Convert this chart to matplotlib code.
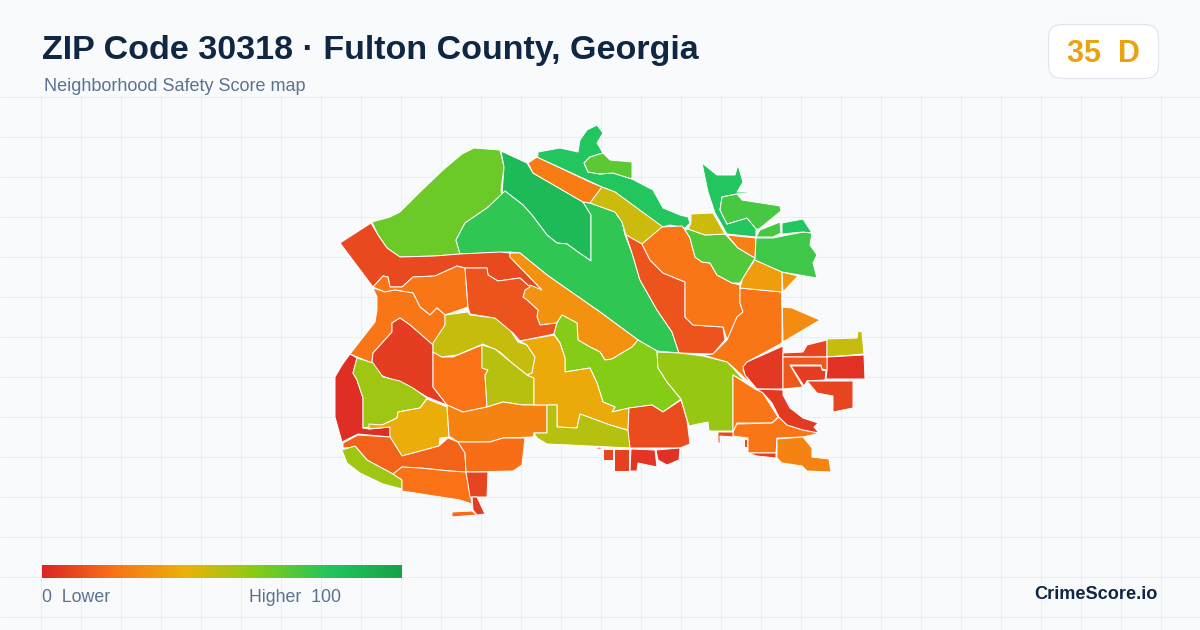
import matplotlib
matplotlib.use("Agg")
import matplotlib.pyplot as plt
import numpy as np
from matplotlib.collections import PatchCollection
from matplotlib.colors import LinearSegmentedColormap, Normalize
from matplotlib.patches import FancyBboxPatch, Polygon

TITLE = "ZIP Code 30318 · Fulton County, Georgia"
SUBTITLE = "Neighborhood Safety Score map"
SCORE_LABEL = "35  D"
BRAND = "CrimeScore.io"
LEGEND_LOW = "0  Lower"
LEGEND_HIGH = "Higher  100"

SCALE_STOPS = [0.0, 0.2, 0.4, 0.6, 0.8, 1.0]
SCALE_COLORS = ["#dc2626", "#f97316", "#eab308", "#84cc16", "#22c55e", "#16a34a"]

# neighborhood outlines
north_outlines = [
    [(372,222),(390,217),(400,212),(420,192),(443,170),(462,154),(474,148),(500,150),(504,167),(501,190),(502,195),(487,208),(465,223),(456,240),(460,254),(435,256),(400,257),(387,248),(378,235)],
    [(501,151),(527,163),(533,173),(583,202),(591,215),(591,261),(578,252),(567,244),(557,243),(547,235),(532,215),(523,205),(505,191),(502,194),(504,167)],
    [(505,191),(523,205),(532,215),(547,235),(557,243),(567,244),(578,252),(591,261),(591,215),(583,202),(590,203),(615,212),(622,222),(625,235),(632,253),(640,280),(657,310),(672,332),(679,353),(657,351),(638,340),(600,312),(547,275),(520,253),(510,252),(460,254),(456,240),(465,223),(487,208)],
    [(528,163),(537,157),(590,182),(602,187),(590,203),(583,202),(533,173)],
    [(538,155),(538,152),(560,148),(578,152),(580,140),(587,130),(597,125),(603,133),(597,143),(603,153),(590,157),(584,163),(588,172),(600,174),(613,173),(632,179),(653,190),(663,208),(680,215),(688,217),(690,223),(685,228),(670,225),(662,227),(615,192),(602,187),(537,157)],
    [(584,163),(590,157),(603,153),(610,160),(632,162),(632,179),(613,173),(600,174),(588,172)],
    [(602,187),(615,192),(663,227),(642,244),(626,235),(622,222),(615,212),(590,203)],
]
north_scores = [65, 86, 77, 23, 80, 68, 46]

northeast_outlines = [
    [(626,235),(642,244),(650,260),(663,273),(685,282),(685,317),(693,325),(723,327),(725,340),(713,354),(679,353),(672,332),(657,310),(640,280),(632,253)],
    [(642,244),(662,227),(682,226),(685,230),(690,238),(695,257),(702,262),(710,263),(717,275),(732,283),(740,285),(740,303),(743,312),(737,317),(727,340),(723,327),(693,325),(685,317),(685,282),(663,273),(650,260)],
    [(740,288),(782,292),(782,343),(747,362),(743,370),(750,383),(733,367),(727,362),(703,355),(713,354),(727,340),(737,317),(743,312),(740,303)],
    [(755,260),(782,272),(782,292),(740,288),(743,277)],
    [(782,272),(798,276),(783,292)],
    [(782,292),(782,307),(792,308),(820,320),(783,342)],
    [(685,230),(688,229),(705,235),(725,234),(738,248),(755,258),(740,283),(732,283),(717,275),(710,263),(702,262),(695,257),(690,238)],
    [(691,214),(713,213),(725,234),(705,235),(688,229),(691,223)],
    [(727,235),(756,238),(755,258),(738,248)],
    [(756,238),(773,238),(803,232),(812,233),(810,245),(817,255),(813,263),(817,278),(782,272),(755,260)],
    [(702,163),(717,175),(735,175),(738,165),(743,182),(737,192),(760,192),(737,194),(722,197),(720,210),(727,224),(747,218),(756,228),(756,237),(727,234),(715,213),(708,192)],
    [(722,197),(737,194),(742,200),(780,206),(781,211),(770,220),(759,229),(756,229),(747,218),(727,224),(720,210)],
    [(756,237),(760,230),(780,222),(781,233),(773,237)],
    [(782,223),(803,219),(812,233),(803,232),(782,234)],
]
northeast_scores = [12, 21, 21, 33, 31, 28, 70, 46, 24, 74, 80, 72, 72, 80]

west_outlines = [
    [(340,243),(371,223),(378,235),(387,248),(400,257),(435,256),(460,254),(500,252),(510,253),(510,257),(542,290),(530,287),(520,278),(498,281),(488,275),(487,268),(465,268),(457,266),(435,276),(413,277),(402,287),(390,287),(388,277),(383,276),(373,287)],
    [(373,287),(383,276),(388,277),(390,287),(402,287),(413,277),(435,276),(457,266),(465,268),(468,307),(445,315),(437,308),(430,315),(420,307),(413,293),(395,290),(385,292)],
    [(373,288),(385,292),(395,290),(413,293),(420,307),(430,315),(437,308),(445,315),(445,325),(433,345),(410,325),(400,318),(392,323),(392,332),(373,353),(372,363),(350,354),(375,322),(377,310),(377,297)],
    [(433,345),(433,387),(447,405),(427,397),(407,385),(380,375),(372,363),(373,353),(392,332),(392,323),(400,318),(410,325)],
    [(350,354),(357,358),(353,373),(357,380),(363,398),(363,428),(369,429),(390,427),(390,437),(358,434),(342,442),(335,417),(335,377),(342,365)],
    [(357,358),(373,363),(383,377),(400,381),(413,388),(427,398),(420,408),(398,412),(397,418),(382,425),(363,428),(363,398),(357,380),(353,373)],
    [(427,399),(447,407),(449,437),(440,438),(439,446),(402,456),(390,437),(390,427),(369,429),(369,424),(382,425),(397,418),(398,412),(420,408)],
    [(433,352),(442,357),(453,357),(482,345),(482,368),(488,370),(485,375),(487,407),(463,412),(447,405),(433,387)],
    [(445,315),(468,312),(470,315),(495,318),(510,330),(518,342),(527,345),(535,357),(532,373),(527,375),(512,363),(500,352),(483,344),(457,355),(442,357),(433,352),(433,343),(445,325)],
    [(482,345),(495,349),(512,363),(527,375),(534,378),(534,405),(523,405),(503,402),(487,407),(485,375),(488,370),(482,368)],
    [(447,405),(463,412),(487,407),(503,402),(523,405),(547,405),(547,433),(534,433),(533,437),(503,438),(490,442),(458,442),(449,436)],
]
west_scores = [9, 21, 21, 6, 2, 55, 38, 20, 47, 50, 25]

southwest_outlines = [
    [(343,443),(358,435),(390,437),(402,456),(439,446),(448,438),(458,442),(465,453),(466,472),(450,471),(420,468),(402,467),(393,474),(367,460),(356,447),(343,448)],
    [(342,450),(355,446),(367,460),(393,474),(402,480),(402,489),(383,484),(360,473),(347,463)],
    [(393,474),(402,467),(420,468),(450,471),(466,472),(472,504),(460,500),(402,491),(402,480)],
    [(458,442),(490,442),(503,438),(525,438),(522,465),(513,471),(466,472),(465,453)],
    [(466,472),(488,472),(487,497),(470,497)],
    [(472,497),(477,497),(485,514),(477,515),(473,510)],
    [(452,512),(472,511),(477,515),(452,517)],
]
southwest_scores = [16, 55, 20, 19, 8, 6, 18]

central_outlines = [
    [(510,253),(520,253),(547,275),(600,312),(638,340),(632,347),(612,359),(605,360),(600,352),(590,347),(578,340),(577,323),(562,315),(557,323),(540,325),(537,317),(538,310),(527,300),(523,297),(525,290),(530,285),(542,290),(510,257)],
    [(465,268),(487,268),(488,275),(498,281),(520,278),(530,287),(525,290),(523,297),(527,300),(538,310),(537,317),(540,325),(557,323),(554,334),(520,341),(513,333),(495,318),(470,314),(468,307)],
    [(562,315),(577,323),(578,340),(590,347),(600,352),(605,360),(612,359),(632,347),(638,340),(657,351),(658,368),(667,382),(681,399),(663,412),(652,405),(630,408),(612,412),(615,407),(603,402),(597,383),(590,368),(565,372),(565,358),(560,343),(554,334),(557,323)],
    [(520,341),(554,335),(560,343),(565,358),(565,372),(590,368),(597,383),(603,402),(615,407),(612,412),(629,408),(628,430),(610,425),(580,414),(577,428),(557,427),(557,405),(534,405),(534,378),(527,375),(532,373),(535,357),(527,345)],
    [(547,405),(557,405),(557,427),(577,428),(580,414),(610,425),(630,431),(630,448),(570,445),(547,444),(537,438),(534,433),(547,433)],
    [(629,408),(652,405),(663,412),(681,400),(687,420),(690,444),(680,448),(630,448),(628,430)],
    [(657,352),(679,353),(703,356),(727,362),(733,368),(747,384),(755,388),(733,375),(733,431),(709,431),(708,422),(698,424),(689,426),(681,399),(667,382),(658,368)],
]
central_scores = [30, 12, 60, 37, 50, 10, 56]

south_outlines = [
    [(733,375),(755,389),(763,393),(778,417),(772,423),(737,423),(733,432)],
    [(737,424),(772,423),(779,417),(787,425),(803,430),(820,433),(803,437),(777,438),(776,453),(748,453),(748,438),(733,436),(733,432)],
    [(777,439),(803,437),(812,448),(812,457),(829,459),(831,472),(807,471),(802,466),(782,463),(777,458)],
    [(748,453),(776,453),(776,458),(757,456)],
    [(718,432),(733,432),(733,437),(720,436),(720,443),(718,443)],
    [(725,443),(730,443),(730,444),(725,444)],
    [(744,439),(747,439),(747,447),(744,447)],
    [(592,449),(600,447),(603,449)],
    [(603,449),(613,449),(613,460),(603,460)],
    [(614,449),(629,449),(629,471),(614,471)],
    [(631,449),(655,450),(657,467),(638,463),(637,471),(630,471)],
    [(656,450),(680,448),(679,460),(667,465),(658,460)],
]
south_scores = [21, 21, 25, 6, 10, 10, 10, 8, 8, 7, 4, 3]

east_outlines = [
    [(783,346),(783,389),(757,389),(745,375),(743,367),(747,362)],
    [(783,353),(803,352),(807,345),(827,340),(827,357),(783,357)],
    [(827,339),(857,338),(858,331),(862,332),(864,354),(827,357)],
    [(827,357),(864,355),(865,379),(826,379),(827,370)],
    [(783,357),(827,357),(827,370),(822,369),(821,365),(790,365),(803,387),(783,389)],
    [(791,366),(821,366),(822,370),(826,371),(825,380),(807,381),(804,386)],
    [(807,381),(853,381),(853,408),(833,412),(833,396),(817,393)],
    [(757,389),(783,390),(783,395),(790,408),(803,418),(818,423),(814,427),(819,433),(803,430),(787,425),(779,417),(772,403),(763,393)],
]
east_scores = [5, 8, 47, 3, 13, 6, 8, 5]

zone_outlines = (north_outlines + northeast_outlines + west_outlines
                 + southwest_outlines + central_outlines + south_outlines + east_outlines)
zone_scores = (north_scores + northeast_scores + west_scores
               + southwest_scores + central_scores + south_scores + east_scores)

INK = "#0f2744"
MUTED = "#5b7290"
AMBER = "#eaa30f"
GRID = "#e8eef6"
BG = "#f8fafc"

plt.rcParams["font.family"] = ["Liberation Sans", "DejaVu Sans"]

fig = plt.figure(figsize=(12, 6.3), dpi=100, facecolor=BG)
ax = fig.add_axes([0, 0, 1, 1])
ax.set_xlim(0, 1200)
ax.set_ylim(630, 0)
ax.axis("off")

# background grid, below the header band only
ax.vlines(np.arange(40.5, 1200, 40), 96, 630, color=GRID, linewidth=0.72, zorder=0)
ax.hlines(np.arange(96.5, 630, 40), 0, 1200, color=GRID, linewidth=0.72, zorder=0)

cmap = LinearSegmentedColormap.from_list("safety", list(zip(SCALE_STOPS, SCALE_COLORS)))
norm = Normalize(0, 100)

patches = [Polygon(outline, closed=True) for outline in zone_outlines]
zones = PatchCollection(patches, cmap=cmap, norm=norm, edgecolor="white", linewidth=0.7, zorder=2)
zones.set_array(np.array(zone_scores))
ax.add_collection(zones)

ax.text(42, 59.5, TITLE, fontsize=24.45, fontweight="bold", color=INK, va="baseline", ha="left")
ax.text(44, 91, SUBTITLE, fontsize=12.95, color=MUTED, va="baseline", ha="left")

badge = FancyBboxPatch((1048.5, 24.5), 110, 54, boxstyle="round,pad=0,rounding_size=14",
                       facecolor="white", edgecolor="#dde4ee", linewidth=0.8, zorder=3)
ax.add_patch(badge)
ax.text(1103, 62, SCORE_LABEL, fontsize=22, fontweight="bold", color=AMBER, va="baseline", ha="center", zorder=4)

# color scale
ax.imshow(np.linspace(0, 1, 360).reshape(1, -1), cmap=cmap, aspect="auto",
          extent=(42, 402, 578, 565), zorder=2)
ax.set_xlim(0, 1200)
ax.set_ylim(630, 0)
ax.text(42, 602, LEGEND_LOW, fontsize=12.8, color=MUTED, va="baseline", ha="left")
ax.text(249, 602, LEGEND_HIGH, fontsize=12.8, color=MUTED, va="baseline", ha="left")
ax.text(1158, 599, BRAND, fontsize=13.05, fontweight="bold", color=INK, va="baseline", ha="right")

fig.savefig("out.png", dpi=100, facecolor=BG)
